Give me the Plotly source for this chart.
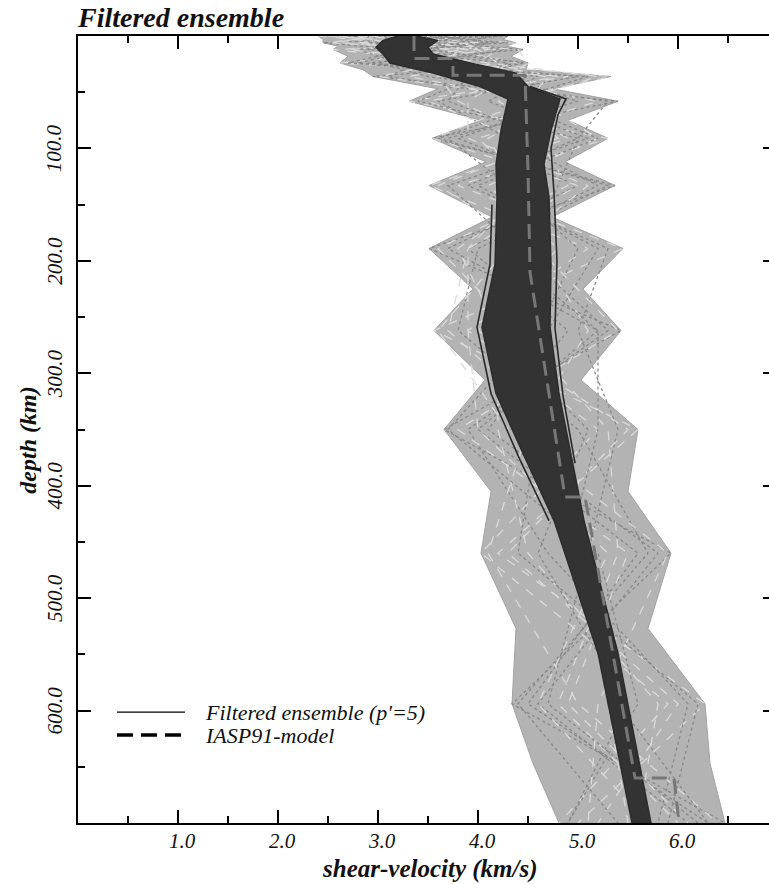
import plotly.graph_objects as go

# ---------------------------------------------------------------------------
# Data
# ---------------------------------------------------------------------------
# Depth nodes (km) of the parameterised layered models
node_depth = [0, 6, 12, 24, 36, 58, 91, 133, 189, 262, 350, 460, 594, 700]

# Unfiltered ensemble of shear-velocity models (km/s) at the node depths
ens_01 = [2.40, 3.10, 3.90, 2.62, 4.90, 3.31, 5.30, 3.80, 5.45, 3.56, 5.60, 4.20, 6.27, 5.00]
ens_02 = [4.30, 2.45, 3.20, 4.50, 2.95, 5.40, 3.54, 5.37, 3.51, 5.43, 3.66, 5.93, 4.34, 6.47]
ens_03 = [3.30, 4.38, 2.55, 3.80, 5.33, 4.20, 4.90, 3.51, 5.10, 3.90, 5.20, 4.03, 5.90, 4.81]
ens_04 = [3.00, 3.60, 4.45, 2.90, 4.40, 4.90, 3.80, 5.00, 3.70, 5.20, 4.00, 5.60, 4.50, 6.30]
ens_05 = [3.80, 2.80, 4.00, 4.20, 3.30, 4.60, 5.20, 4.10, 4.80, 4.00, 5.50, 4.30, 6.00, 5.20]
ens_06 = [2.70, 4.10, 3.00, 3.50, 5.00, 3.60, 4.30, 5.20, 3.90, 4.90, 4.10, 5.80, 4.60, 6.10]
ens_07 = [3.50, 3.30, 3.70, 4.40, 3.80, 5.20, 4.00, 4.50, 3.90, 3.70, 4.80, 5.00, 5.30, 5.50]
ens_08 = [4.10, 3.90, 2.80, 3.20, 4.60, 4.10, 5.10, 3.70, 4.40, 5.30, 3.90, 4.70, 6.10, 5.80]
ens_09 = [2.90, 2.60, 4.20, 4.00, 3.60, 3.80, 4.60, 4.90, 3.60, 4.40, 5.30, 5.40, 4.80, 6.00]
ens_10 = [3.60, 4.20, 3.40, 2.80, 4.10, 5.00, 3.70, 4.30, 5.00, 4.60, 3.70, 5.20, 5.60, 4.90]
ens_11 = [2.50, 3.50, 3.10, 4.10, 5.20, 4.40, 4.80, 3.60, 4.60, 5.10, 4.50, 4.10, 5.00, 6.40]
ens_12 = [3.90, 2.90, 4.30, 3.40, 3.10, 4.70, 3.60, 5.30, 4.00, 3.80, 5.00, 5.70, 4.40, 5.40]
ens_13 = [3.20, 4.00, 2.70, 3.90, 4.80, 3.50, 4.40, 4.70, 3.80, 4.20, 4.20, 4.50, 5.80, 5.60]
ens_14 = [4.20, 3.70, 3.60, 3.00, 3.50, 5.30, 5.00, 3.90, 5.30, 5.00, 5.40, 5.10, 4.70, 6.20]
ens_15 = [2.60, 3.20, 4.40, 4.50, 4.30, 3.90, 3.90, 5.10, 4.30, 3.60, 4.30, 5.90, 5.20, 5.10]
ens_16 = [3.40, 4.30, 3.30, 2.70, 5.10, 4.30, 5.20, 4.00, 5.20, 4.70, 4.60, 4.40, 6.20, 5.90]
ens_17 = [3.00, 2.50, 3.80, 3.70, 3.00, 4.80, 4.10, 4.40, 4.60, 5.40, 3.80, 5.50, 4.90, 6.10]
ens_18 = [4.00, 3.40, 2.90, 4.30, 4.00, 3.40, 5.00, 4.80, 4.50, 4.10, 5.10, 4.60, 5.50, 4.90]
ens_19 = [2.80, 3.80, 4.10, 3.30, 4.70, 4.50, 3.55, 5.00, 3.90, 3.90, 4.00, 5.30, 4.60, 5.70]
ens_20 = [3.70, 3.00, 3.50, 4.45, 3.90, 3.70, 4.70, 4.60, 4.20, 5.20, 5.20, 4.90, 5.40, 6.30]

# Outer bounds of the whole unfiltered ensemble (km/s)
env_depth = [0, 3, 6, 9, 12, 18, 24, 30, 36, 47, 58, 75, 91, 112, 133, 161,
             189, 225, 262, 306, 350, 405, 460, 527, 594, 647, 700]
env_left = [2.40, 2.45, 2.45, 2.60, 2.55, 2.70, 2.62, 2.85, 2.95, 3.60, 3.31, 4.03, 3.54, 4.08,
            3.51, 4.14, 3.51, 3.95, 3.56, 4.07, 3.66, 4.13, 4.03, 4.38, 4.34, 4.55, 4.81]
env_right = [4.30, 4.25, 4.38, 4.28, 4.45, 4.33, 4.50, 4.48, 5.33, 4.75, 5.40, 4.90, 5.30, 4.87,
             5.37, 4.74, 5.45, 5.05, 5.43, 5.03, 5.60, 5.50, 5.93, 5.70, 6.27, 6.32, 6.47]

# Bounds of the filtered ensemble (p' = 5)
band_depth = [0, 4, 10, 16, 24, 33, 45, 56, 84, 114, 143, 203, 259, 318, 377, 431, 549, 700]
band_left = [3.20, 3.05, 2.98, 3.05, 3.12, 3.55, 4.02, 4.30, 4.23, 4.18, 4.19, 4.17, 4.04,
             4.18, 4.48, 4.76, 5.20, 5.54]
band_right = [3.38, 3.60, 3.50, 3.55, 3.92, 4.38, 4.50, 4.82, 4.73, 4.66, 4.71, 4.73, 4.72,
              4.81, 4.94, 5.06, 5.40, 5.73]

# Individual filtered models standing out at the edges of the bundle
filt_a_depth = [45, 56, 70, 100, 140, 200, 260, 320, 380]
filt_a_vs = [4.52, 4.88, 4.80, 4.73, 4.76, 4.79, 4.77, 4.85, 4.97]
filt_b_depth = [150, 203, 259, 318, 377, 431]
filt_b_vs = [4.14, 4.12, 3.99, 4.13, 4.42, 4.71]

# IASP91 reference model
iasp_depth = [0, 20, 20, 35, 35, 120, 210, 410, 410, 660, 660, 700]
iasp_vs = [3.36, 3.36, 3.75, 3.75, 4.47, 4.50, 4.52, 4.87, 5.07, 5.57, 5.96, 6.01]

# Axis ticks
x_ticks = [1, 2, 3, 4, 5, 6]
x_tick_text = ["1.0", "2.0", "3.0", "4.0", "5.0", "6.0"]
y_ticks = [100, 200, 300, 400, 500, 600]
y_tick_text = ["100.0", "200.0", "300.0", "400.0", "500.0", "600.0"]

ensemble = [ens_01, ens_02, ens_03, ens_04, ens_05, ens_06, ens_07, ens_08, ens_09, ens_10,
            ens_11, ens_12, ens_13, ens_14, ens_15, ens_16, ens_17, ens_18, ens_19, ens_20]

# ---------------------------------------------------------------------------
# Figure
# ---------------------------------------------------------------------------
SERIF = "Liberation Serif"
INK = "#111111"
fig = go.Figure()

# grey envelope of all models
fig.add_trace(go.Scatter(
    x=env_left + env_right[::-1], y=env_depth + env_depth[::-1],
    mode="lines", fill="toself", fillcolor="#b3b3b3",
    line=dict(color="#a2a2a2", width=1), hoverinfo="skip", showlegend=False))

# individual unfiltered models
for i, prof in enumerate(ensemble):
    fig.add_trace(go.Scatter(
        x=prof, y=node_depth, mode="lines",
        line=dict(color="#888888" if i % 2 else "#dadada", width=1.3,
                  dash="dot" if i % 2 else "dash"),
        hoverinfo="skip", showlegend=False))

# filtered ensemble bundle
fig.add_trace(go.Scatter(
    x=band_left + band_right[::-1], y=band_depth + band_depth[::-1],
    mode="lines", fill="toself", fillcolor="#333333",
    line=dict(color="#2c2c2c", width=1.5), hoverinfo="skip", showlegend=False))

for d, v in ((filt_a_depth, filt_a_vs), (filt_b_depth, filt_b_vs)):
    fig.add_trace(go.Scatter(
        x=v, y=d, mode="lines", line=dict(color="#2a2a2a", width=1.6),
        hoverinfo="skip", showlegend=False))

# IASP91
fig.add_trace(go.Scatter(
    x=iasp_vs, y=iasp_depth, mode="lines", yaxis="y2",
    line=dict(color="#777777", width=3, dash="15px,8px"),
    hoverinfo="skip", showlegend=False))

fig.update_layout(
    width=769, height=884,
    margin=dict(l=78, r=0, t=36, b=61),
    paper_bgcolor="white", plot_bgcolor="white",
    showlegend=False,
    xaxis=dict(
        range=[0, 6.91], tickvals=x_ticks, showticklabels=False,
        ticks="inside", ticklen=13, tickwidth=1.5, tickcolor="black",
        showline=True, linewidth=2, linecolor="black", mirror="ticks",
        layer="below traces", showgrid=False, zeroline=False,
        minor=dict(dtick=0.5, tick0=0, ticks="inside", ticklen=7, tickwidth=1.5,
                   tickcolor="black", showgrid=False),
    ),
    yaxis=dict(
        range=[700, 0], tickvals=y_ticks, showticklabels=False,
        ticks="inside", ticklen=13, tickwidth=1.5, tickcolor="black",
        showline=True, linewidth=2, linecolor="black", mirror=False,
        showgrid=False, zeroline=False,
        minor=dict(dtick=50, tick0=0, ticks="inside", ticklen=7, tickwidth=1.5,
                   tickcolor="black", showgrid=False),
    ),
    yaxis2=dict(
        range=[700, 0], overlaying="y", side="right", tickvals=y_ticks,
        ticks="inside", ticklen=6, tickwidth=1.5, tickcolor="black",
        showline=False, showgrid=False, zeroline=False, showticklabels=False,
    ),
)

# tick labels, placed on the axes' own scales
for v, t in zip(x_ticks, x_tick_text):
    fig.add_annotation(text=f"<i>{t}</i>", xref="x", yref="paper", x=v + 0.04, y=-0.0229,
                       xanchor="center", yanchor="middle", showarrow=False,
                       font=dict(family=SERIF, size=21, color=INK))
for v, t in zip(y_ticks, y_tick_text):
    fig.add_annotation(text=f"<i>{t}</i>", xref="paper", yref="y", x=-0.0335, y=v,
                       xanchor="center", yanchor="middle", showarrow=False, textangle=-90,
                       font=dict(family=SERIF, size=21, color=INK))

# plot title and axis titles
fig.add_annotation(text="<b><i>Filtered ensemble</i></b>", xref="paper", yref="paper",
                   x=-0.004, y=1.0241, xanchor="left", yanchor="middle", showarrow=False,
                   font=dict(family=SERIF, size=28, color=INK))
fig.add_annotation(text="<b><i>shear-velocity (km/s)</i></b>", xref="paper", yref="paper",
                   x=0.509, y=-0.0585, xanchor="center", yanchor="middle", showarrow=False,
                   font=dict(family=SERIF, size=25, color=INK))
fig.add_annotation(text="<b><i>depth (km)</i></b>", xref="paper", yref="paper",
                   x=-0.0725, y=0.487, xanchor="center", yanchor="middle", showarrow=False,
                   textangle=-90, font=dict(family=SERIF, size=24, color=INK))

# legend
leg_x0, leg_x1, leg_tx = 0.0564, 0.1548, 0.181
fig.add_shape(type="line", xref="paper", yref="paper", x0=leg_x0, x1=leg_x1,
              y0=0.141, y1=0.141, line=dict(color="black", width=1.2))
fig.add_shape(type="line", xref="paper", yref="paper", x0=leg_x0, x1=leg_x1,
              y0=0.1118, y1=0.1118, line=dict(color="black", width=3.5, dash="16px,8px"))
fig.add_annotation(text="<i>Filtered ensemble (p'=5)</i>", xref="paper", yref="paper",
                   x=leg_tx, y=0.141, xanchor="left", yanchor="middle", showarrow=False,
                   font=dict(family=SERIF, size=22, color=INK))
fig.add_annotation(text="<i>IASP91-model</i>", xref="paper", yref="paper",
                   x=leg_tx, y=0.1118, xanchor="left", yanchor="middle", showarrow=False,
                   font=dict(family=SERIF, size=22, color=INK))

fig.write_html("out.html")
